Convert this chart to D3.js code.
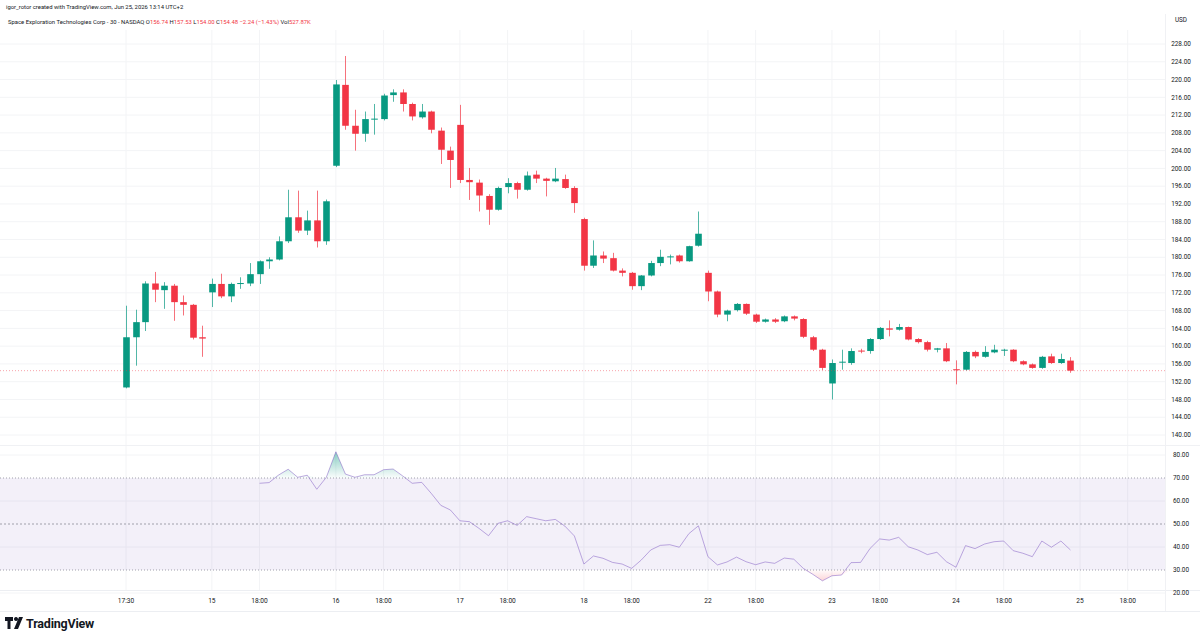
<!DOCTYPE html>
<meta charset="utf-8">
<head>
  <style>
    body { margin: 0; background: #fff; }
    text { font-family: Roboto, "Noto Sans", sans-serif; }
  </style>
  <script src="https://cdn.jsdelivr.net/npm/d3@7"></script>
</head>
<body>
<script>
  // 30 min bars, regular session only
  const opens  = [150.7,162.0,165.4,174.1,172.6,173.6,169.9,169.3,162.0,
    172.1,174.0,171.2,174.0,174.1,176.2,179.1,179.5,183.6,189.0,186.0,188.3,183.6,
    200.6,218.8,209.6,207.8,211.1,211.1,216.5,217.1,214.5,211.5,212.8,208.5,204.0,
    209.8,197.4,196.8,193.8,190.7,195.8,196.7,195.2,198.6,197.7,197.1,197.6,195.6,
    188.6,178.1,180.4,179.8,177.0,176.5,173.5,175.9,178.7,180.1,180.4,179.1,182.6,
    176.5,172.3,167.1,168.1,169.5,167.1,165.5,166.0,165.6,166.7,166.1,162.0,159.2,
    151.6,156.3,156.2,159.0,158.9,161.6,164.0,163.7,164.3,161.6,160.9,159.2,159.5,
    154.8,154.7,158.7,157.6,158.6,159.1,159.2,156.6,155.9,155.1,157.7,156.2,156.74];
  const highs  = [169.1,168.2,174.6,176.7,174.4,174.0,171.4,169.5,164.6,
    175.2,176.3,174.3,175.5,178.7,179.3,180.0,184.7,195.2,195.0,190.5,195.0,193.0,
    219.9,225.3,213.2,212.8,214.5,216.8,217.8,217.8,214.8,214.5,213.0,209.2,204.9,
    214.3,200.1,197.5,194.2,195.9,197.8,197.0,199.3,199.5,197.9,200.1,198.6,196.0,
    188.9,183.8,181.3,181.0,177.5,176.7,176.0,179.2,181.7,180.6,180.6,182.6,190.3,
    177.0,172.5,168.2,169.7,169.6,167.3,166.2,166.3,166.9,166.9,166.3,162.3,159.4,
    157.0,159.2,159.5,159.4,161.8,164.3,165.8,165.0,164.4,161.8,161.2,159.6,160.7,
    156.8,158.9,159.0,160.0,160.3,159.4,159.3,156.8,156.1,157.8,158.3,158.3,157.53];
  const lows   = [150.5,155.6,163.4,169.9,168.4,165.7,166.9,161.5,157.6,
    168.8,170.8,169.9,172.9,173.5,174.0,177.4,179.3,183.2,185.5,185.0,182.2,182.8,
    200.3,208.7,204.0,206.0,207.6,210.8,215.0,212.8,210.8,211.2,207.9,201.0,195.6,
    196.7,192.9,190.3,187.3,190.5,194.4,193.2,195.0,196.7,193.7,196.9,195.4,190.0,
    177.0,177.6,178.7,176.8,175.7,172.7,172.6,175.7,178.0,178.4,178.8,179.0,182.4,
    170.1,166.5,165.6,167.8,167.0,165.2,165.3,165.2,165.4,165.8,161.8,158.9,154.6,
    148.0,154.7,155.8,158.4,158.3,161.4,162.2,163.5,161.3,160.6,158.8,158.6,156.4,
    151.4,154.5,157.3,157.4,158.4,157.8,156.4,155.7,154.9,154.9,156.0,156.0,154.0];
  const closes = [162.0,165.4,174.1,172.7,173.6,169.9,169.3,161.9,161.7,
    174.0,171.2,174.0,174.2,176.2,179.1,179.5,183.6,189.0,186.0,188.3,183.6,192.6,
    218.9,209.6,207.8,211.1,211.2,216.4,217.1,214.5,211.7,212.8,208.7,204.2,201.9,
    197.4,196.9,193.9,190.7,195.6,196.7,195.2,198.4,197.7,197.2,197.7,195.6,192.2,
    178.1,180.4,179.7,177.0,176.5,173.5,175.9,178.7,180.1,180.2,179.1,182.5,185.3,
    172.3,167.1,168.0,169.5,167.3,165.5,166.0,165.5,166.7,166.2,162.1,159.2,155.1,
    156.2,156.5,158.9,158.9,161.6,164.1,163.7,164.3,161.5,160.9,159.2,159.5,156.6,
    154.7,158.7,157.7,158.7,159.2,159.2,156.6,155.9,155.1,157.6,156.2,157.1,154.48];

  // RSI(14), first value on bar 14
  const rsiStart = 14;
  const rsi = [67.7,68.0,71.3,73.8,70.3,71.2,65.1,70.3,81.4,71.7,70.3,71.4,71.4,73.6,
    73.9,70.9,67.7,68.1,63.3,58.1,56.1,51.4,51.0,48.1,44.9,50.3,51.4,49.4,53.2,52.3,
    51.4,52.0,49.1,44.8,32.6,36.1,35.1,33.3,32.6,30.7,34.3,38.7,40.7,41.0,39.9,45.8,
    49.2,35.8,32.2,33.5,35.6,33.6,32.3,33.5,32.9,35.2,34.7,30.7,28.1,25.3,27.5,27.8,
    33.2,33.3,39.4,43.5,43.0,44.2,40.1,38.7,36.7,37.7,33.6,31.2,40.6,39.3,41.3,42.3,
    42.6,38.4,37.3,35.8,42.6,39.9,42.6,38.7];

  const timeTicks  = [0, 9, 14, 22, 27, 35, 40, 48, 53, 61, 66, 74, 79, 87, 92, 100, 105];
  const timeLabels = ["17:30","15","18:00","16","18:00","17","18:00","18","18:00",
    "22","18:00","23","18:00","24","18:00","25","18:00"];
  const priceTicks = d3.range(140, 229, 4);
  const rsiTicks = [80, 70, 60, 50, 40, 30, 20];

  const W = 1200, H = 637;
  const plotRight = 1165;
  const up = "#089981", down = "#f23645";

  const svg = d3.create("svg:svg")
    .attr("width", W)
    .attr("height", H)
    .style("display", "block");
  d3.select("body").append(() => svg.node());

  const x = d3.scaleLinear().domain([0, 100]).range([126, 1080]);
  const y = d3.scaleLinear().domain([140, 228]).range([435, 44]);
  const yr = d3.scaleLinear().domain([20, 80]).range([593, 455]);
  const bw = 6.6;

  const defs = svg.append("defs");
  const gUp = defs.append("linearGradient").attr("id", "obFill")
    .attr("gradientUnits", "userSpaceOnUse")
    .attr("x1", 0).attr("x2", 0).attr("y1", yr(82)).attr("y2", yr(70));
  gUp.append("stop").attr("offset", 0).attr("stop-color", up).attr("stop-opacity", .5);
  gUp.append("stop").attr("offset", 1).attr("stop-color", up).attr("stop-opacity", .02);
  const gDn = defs.append("linearGradient").attr("id", "osFill")
    .attr("gradientUnits", "userSpaceOnUse")
    .attr("x1", 0).attr("x2", 0).attr("y1", yr(30)).attr("y2", yr(18));
  gDn.append("stop").attr("offset", 0).attr("stop-color", down).attr("stop-opacity", .02);
  gDn.append("stop").attr("offset", 1).attr("stop-color", down).attr("stop-opacity", .5);

  // grid
  const grid = svg.append("g");
  grid.selectAll(".vg").data(timeTicks).join("line")
    .attr("x1", d => x(d)).attr("x2", d => x(d))
    .attr("y1", 30).attr("y2", 590)
    .attr("stroke", "#f3f4f6");
  grid.selectAll(".hg").data(priceTicks).join("line")
    .attr("x1", 0).attr("x2", plotRight)
    .attr("y1", d => y(d)).attr("y2", d => y(d))
    .attr("stroke", "#f3f4f6");
  grid.selectAll(".rg").data([80, 60, 40, 20]).join("line")
    .attr("x1", 0).attr("x2", plotRight)
    .attr("y1", d => yr(d)).attr("y2", d => yr(d))
    .attr("stroke", "#f3f4f6");

  // frame lines
  svg.append("line").attr("x1", 0).attr("x2", W).attr("y1", 445.5).attr("y2", 445.5).attr("stroke", "#f0f1f4");
  svg.append("line").attr("x1", 0).attr("x2", W).attr("y1", 590.5).attr("y2", 590.5).attr("stroke", "#eceef2");
  svg.append("line").attr("x1", 0).attr("x2", W).attr("y1", 611.5).attr("y2", 611.5).attr("stroke", "#eceef2");
  svg.append("line").attr("x1", plotRight + .5).attr("x2", plotRight + .5).attr("y1", 14).attr("y2", 611).attr("stroke", "#f0f1f4");

  // candles
  const bars = d3.range(opens.length).map(i => ({
    i: i, o: opens[i], h: highs[i], l: lows[i], c: closes[i]
  }));
  const cg = svg.append("g");
  cg.selectAll(".wick").data(bars).join("line")
    .attr("x1", d => Math.round(x(d.i)) + .5).attr("x2", d => Math.round(x(d.i)) + .5)
    .attr("y1", d => y(d.h)).attr("y2", d => y(d.l))
    .attr("stroke", d => d.c >= d.o ? up : down)
    .attr("stroke-opacity", .7);
  cg.selectAll(".body").data(bars).join("rect")
    .attr("x", d => Math.round(x(d.i)) + .5 - bw / 2)
    .attr("width", bw)
    .attr("y", d => y(Math.max(d.o, d.c)))
    .attr("height", d => Math.max(1, Math.abs(y(d.o) - y(d.c))))
    .attr("fill", d => d.c >= d.o ? up : down);

  // last price line
  const last = closes[closes.length - 1];
  svg.append("line")
    .attr("x1", 0).attr("x2", plotRight)
    .attr("y1", y(last)).attr("y2", y(last))
    .attr("stroke", down).attr("stroke-opacity", .45)
    .attr("stroke-dasharray", "1,2");

  // RSI pane
  svg.append("rect")
    .attr("x", 0).attr("width", plotRight)
    .attr("y", yr(70)).attr("height", yr(30) - yr(70))
    .attr("fill", "#7e57c2").attr("fill-opacity", .09);
  svg.selectAll(".band").data([70, 50, 30]).join("line")
    .attr("x1", 0).attr("x2", plotRight)
    .attr("y1", d => yr(d)).attr("y2", d => yr(d))
    .attr("stroke", "#a0a0ab")
    .attr("stroke-dasharray", d => d == 50 ? "2,2" : "1,2");

  const rsiPts = rsi.map((v, k) => ({i: rsiStart + k, v: v}));
  svg.append("path")
    .attr("d", d3.area().x(d => x(d.i)).y0(yr(70)).y1(d => yr(Math.max(70, d.v)))(rsiPts))
    .attr("fill", "url(#obFill)");
  svg.append("path")
    .attr("d", d3.area().x(d => x(d.i)).y0(yr(30)).y1(d => yr(Math.min(30, d.v)))(rsiPts))
    .attr("fill", "url(#osFill)");
  svg.append("path")
    .attr("d", d3.line().x(d => x(d.i)).y(d => yr(d.v))(rsiPts))
    .attr("fill", "none")
    .attr("stroke", "#7e57c2").attr("stroke-opacity", .5)
    .attr("stroke-width", 1);

  // right axis
  const ax = svg.append("g").attr("font-size", 6.4).attr("fill", "#131722");
  ax.append("text").attr("x", 1181).attr("y", 22).attr("text-anchor", "middle").text("USD");
  ax.selectAll(".pl").data(priceTicks).join("text")
    .attr("x", 1181).attr("y", d => y(d) + 2.2)
    .attr("text-anchor", "middle")
    .text(d => d.toFixed(2));
  ax.selectAll(".rl").data(rsiTicks).join("text")
    .attr("x", 1181).attr("y", d => yr(d) + 2.2)
    .attr("text-anchor", "middle")
    .text(d => d.toFixed(2));

  // time axis
  svg.append("g").attr("font-size", 6.6).attr("fill", "#131722")
    .selectAll("text").data(timeTicks).join("text")
    .attr("x", d => x(d)).attr("y", 603)
    .attr("text-anchor", "middle")
    .text((d, k) => timeLabels[k]);

  // header
  svg.append("text").attr("x", 6).attr("y", 9).attr("font-size", 5.9).attr("fill", "#131722")
    .text("igor_rotor created with TradingView.com, Jun 25, 2026 13:14 UTC+2");
  const hd = svg.append("text").attr("x", 8).attr("y", 23.5).attr("font-size", 5.9).attr("fill", "#131722");
  hd.append("tspan").text("Space Exploration Technologies Corp - 30 - NASDAQ  ");
  const ohlc = [["O", opens], ["H", highs], ["L", lows], ["C", closes]];
  ohlc.forEach(p => {
    hd.append("tspan").text(p[0]);
    hd.append("tspan").attr("fill", down).text(p[1][p[1].length - 1].toFixed(2) + " ");
  });
  hd.append("tspan").attr("fill", down).text("−2.24 (−1.43%) ");
  hd.append("tspan").text("Vol");
  hd.append("tspan").attr("fill", down).text("527.87K");

  // logo
  const lg = svg.append("g").attr("transform", "translate(5,617)");
  lg.append("path").attr("d", "M0 0H8V4H5.5V12H2.5V4H0Z M11 4A2 2 0 1 1 11.01 4 M14 0H18L13 12H9Z").attr("fill", "#131722");
  lg.append("text").attr("x", 21).attr("y", 10.5).attr("font-size", 12.5).attr("font-weight", 700)
    .attr("fill", "#131722").style("letter-spacing", "-0.2px").text("TradingView");
</script>
</body>
</html>
